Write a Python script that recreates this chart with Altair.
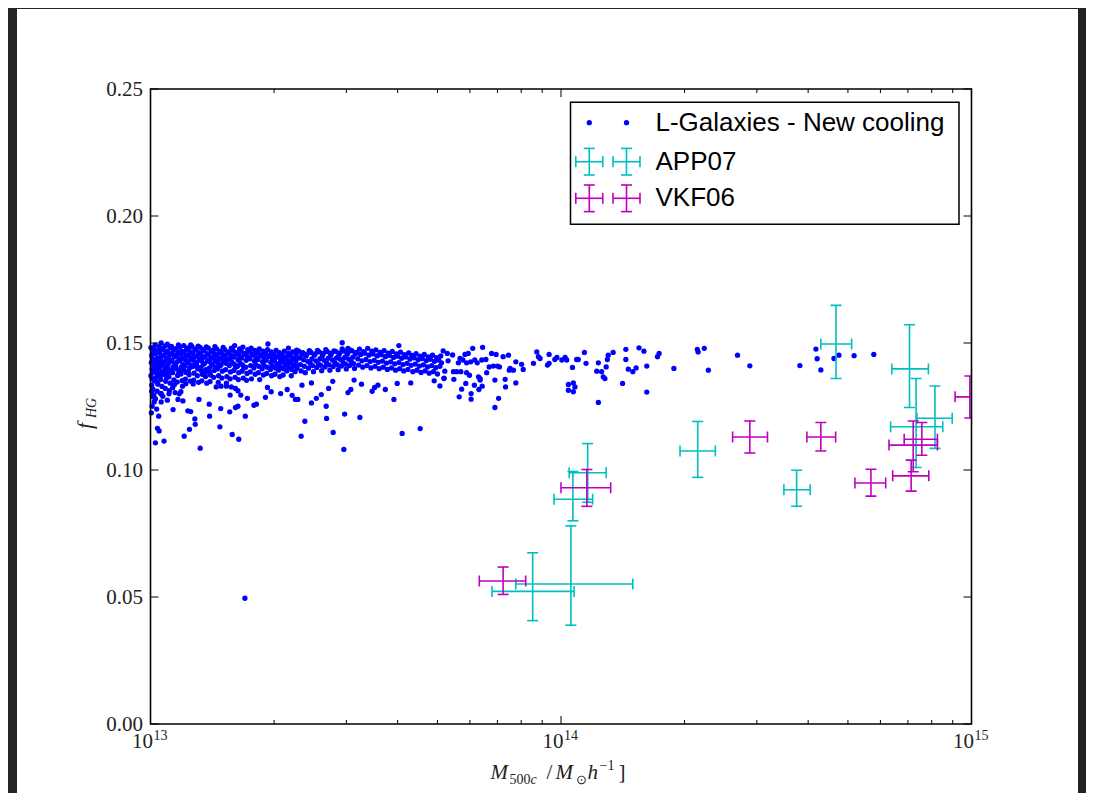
import altair as alt
import pandas as pd

# ---------------- data ----------------
# L-Galaxies model haloes: (log10 M500c [Msun/h], hot-gas fraction f_HG)
model_points = [
    # dense band, 13.00 - 13.36
    (13.001,0.1482),(13.003,0.1451),(13.002,0.1423),(13.004,0.1398),(13.001,0.1371),(13.006,0.1466),(13.005,0.1437),
    (13.008,0.1412),(13.007,0.1385),(13.009,0.1352),(13.003,0.1334),(13.006,0.1318),(13.009,0.1475),(13.004,0.1360),
    (13.011,0.1492),(13.012,0.1458),(13.014,0.1429),(13.013,0.1404),(13.016,0.1380),(13.015,0.1347),(13.018,0.1470),
    (13.017,0.1441),(13.019,0.1418),(13.011,0.1392),(13.014,0.1365),(13.018,0.1338),(13.016,0.1310),
    (13.021,0.1486),(13.022,0.1462),(13.024,0.1433),(13.023,0.1408),(13.026,0.1385),(13.025,0.1356),(13.028,0.1473),
    (13.027,0.1447),(13.029,0.1420),(13.021,0.1397),(13.024,0.1370),(13.028,0.1329),(13.026,0.1500),
    (13.031,0.1479),(13.033,0.1452),(13.032,0.1426),(13.035,0.1401),(13.034,0.1376),(13.037,0.1349),(13.036,0.1489),
    (13.038,0.1463),(13.039,0.1436),(13.031,0.1414),(13.034,0.1389),(13.039,0.1362),(13.036,0.1321),
    (13.041,0.1495),(13.042,0.1468),(13.044,0.1441),(13.043,0.1417),(13.046,0.1392),(13.045,0.1367),(13.048,0.1482),
    (13.047,0.1455),(13.049,0.1428),(13.041,0.1404),(13.044,0.1380),(13.048,0.1342),(13.046,0.1312),
    (13.051,0.1487),(13.053,0.1459),(13.052,0.1432),(13.055,0.1406),(13.054,0.1383),(13.057,0.1355),(13.056,0.1472),
    (13.058,0.1445),(13.059,0.1419),(13.051,0.1394),(13.058,0.1336),(13.054,0.1324),
    (13.061,0.1478),(13.062,0.1451),(13.064,0.1424),(13.063,0.1399),(13.066,0.1372),(13.065,0.1346),(13.068,0.1493),
    (13.067,0.1464),(13.069,0.1437),(13.061,0.1411),(13.069,0.1385),
    (13.071,0.1484),(13.073,0.1456),(13.072,0.1430),(13.075,0.1405),(13.074,0.1378),(13.077,0.1352),(13.076,0.1468),
    (13.078,0.1441),(13.079,0.1415),(13.072,0.1390),(13.078,0.1330),
    (13.081,0.1490),(13.082,0.1462),(13.084,0.1435),(13.083,0.1409),(13.086,0.1384),(13.085,0.1358),(13.088,0.1475),
    (13.087,0.1448),(13.089,0.1421),(13.081,0.1396),(13.086,0.1340),
    (13.091,0.1481),(13.093,0.1454),(13.092,0.1427),(13.095,0.1402),(13.094,0.1375),(13.097,0.1350),(13.096,0.1466),
    (13.098,0.1439),(13.099,0.1413),(13.092,0.1388),(13.098,0.1493),
    (13.101,0.1486),(13.102,0.1460),(13.104,0.1433),(13.103,0.1407),(13.106,0.1381),(13.105,0.1354),(13.108,0.1471),
    (13.107,0.1444),(13.109,0.1418),(13.104,0.1339),
    (13.111,0.1477),(13.113,0.1450),(13.112,0.1423),(13.115,0.1398),(13.114,0.1371),(13.117,0.1345),(13.116,0.1488),
    (13.118,0.1462),(13.119,0.1435),(13.113,0.1410),
    (13.121,0.1483),(13.122,0.1456),(13.124,0.1429),(13.123,0.1404),(13.126,0.1377),(13.125,0.1351),(13.128,0.1469),
    (13.127,0.1442),(13.129,0.1416),(13.124,0.1391),
    (13.131,0.1474),(13.133,0.1447),(13.132,0.1420),(13.135,0.1395),(13.134,0.1368),(13.137,0.1342),(13.136,0.1485),
    (13.138,0.1458),(13.139,0.1431),(13.133,0.1381),
    (13.141,0.1480),(13.142,0.1453),(13.144,0.1426),(13.143,0.1401),(13.146,0.1374),(13.145,0.1348),(13.148,0.1466),
    (13.147,0.1439),(13.149,0.1412),(13.144,0.1386),
    (13.151,0.1471),(13.153,0.1444),(13.152,0.1417),(13.155,0.1392),(13.154,0.1365),(13.157,0.1486),(13.156,0.1458),
    (13.158,0.1431),(13.159,0.1404),
    (13.161,0.1477),(13.162,0.1450),(13.164,0.1423),(13.163,0.1398),(13.166,0.1371),(13.165,0.1345),(13.168,0.1463),
    (13.167,0.1436),(13.169,0.1409),
    (13.171,0.1468),(13.173,0.1441),(13.172,0.1414),(13.175,0.1389),(13.174,0.1362),(13.177,0.1483),(13.176,0.1455),(13.178,0.1428),
    (13.181,0.1474),(13.182,0.1447),(13.184,0.1420),(13.183,0.1395),(13.186,0.1368),(13.185,0.1342),(13.188,0.1460),(13.187,0.1433),
    (13.191,0.1465),(13.193,0.1438),(13.192,0.1411),(13.195,0.1386),(13.194,0.1359),(13.197,0.1480),(13.196,0.1452),(13.198,0.1425),
    (13.201,0.1471),(13.202,0.1444),(13.204,0.1417),(13.203,0.1392),(13.206,0.1365),(13.205,0.1490),(13.208,0.1457),(13.207,0.1404),
    (13.211,0.1462),(13.213,0.1435),(13.212,0.1408),(13.215,0.1383),(13.214,0.1356),(13.217,0.1477),(13.216,0.1449),(13.218,0.1422),
    (13.221,0.1468),(13.222,0.1441),(13.224,0.1414),(13.223,0.1389),(13.226,0.1362),(13.225,0.1484),(13.228,0.1455),(13.227,0.1401),
    (13.231,0.1459),(13.233,0.1432),(13.232,0.1405),(13.235,0.1380),(13.234,0.1353),(13.237,0.1474),(13.236,0.1446),
    (13.241,0.1465),(13.242,0.1438),(13.244,0.1411),(13.243,0.1386),(13.246,0.1359),(13.245,0.1480),(13.248,0.1452),
    (13.251,0.1456),(13.253,0.1429),(13.252,0.1402),(13.255,0.1377),(13.254,0.1471),(13.257,0.1443),(13.256,0.1416),
    (13.261,0.1462),(13.262,0.1435),(13.264,0.1408),(13.263,0.1383),(13.266,0.1356),(13.265,0.1477),(13.268,0.1449),
    (13.271,0.1453),(13.273,0.1426),(13.272,0.1399),(13.275,0.1374),(13.274,0.1468),(13.277,0.1440),(13.276,0.1413),
    (13.281,0.1459),(13.282,0.1432),(13.284,0.1405),(13.283,0.1380),(13.286,0.1496),(13.285,0.1474),(13.288,0.1446),
    (13.291,0.1450),(13.293,0.1423),(13.292,0.1396),(13.295,0.1371),(13.294,0.1465),(13.297,0.1437),(13.296,0.1410),
    (13.301,0.1456),(13.302,0.1429),(13.304,0.1402),(13.303,0.1377),(13.306,0.1471),(13.305,0.1443),(13.308,0.1416),
    (13.311,0.1447),(13.313,0.1420),(13.312,0.1393),(13.315,0.1368),(13.314,0.1462),(13.317,0.1434),(13.316,0.1407),
    (13.321,0.1453),(13.322,0.1426),(13.324,0.1399),(13.323,0.1374),(13.326,0.1468),(13.325,0.1440),(13.328,0.1413),
    (13.331,0.1444),(13.333,0.1417),(13.332,0.1390),(13.335,0.1459),(13.334,0.1431),(13.337,0.1404),(13.336,0.1480),
    (13.341,0.1450),(13.342,0.1423),(13.344,0.1396),(13.343,0.1371),(13.346,0.1465),(13.345,0.1437),(13.348,0.1410),
    (13.351,0.1441),(13.353,0.1414),(13.352,0.1387),(13.355,0.1456),(13.354,0.1428),(13.357,0.1401),(13.356,0.1472),
    # sparse points below the band, 13.00 - 13.36
    (13.006,0.1288),(13.009,0.1268),(13.004,0.1251),(13.026,0.1268),(13.041,0.1275),(13.055,0.1238),(13.067,0.1278),
    (13.079,0.1272),(13.091,0.1233),(13.098,0.1230),(13.108,0.1201),(13.109,0.1180),(13.095,0.1160),(13.082,0.1133),
    (13.020,0.1212),(13.017,0.1164),(13.021,0.1154),(13.012,0.1107),(13.033,0.1114),(13.121,0.1086),(13.118,0.1278),
    (13.143,0.1259),(13.144,0.1212),(13.171,0.1242),(13.169,0.1170),(13.193,0.1229),(13.194,0.1295),(13.207,0.1246),
    (13.213,0.1251),(13.199,0.1140),(13.215,0.1121),(13.231,0.1212),(13.220,0.1295),(13.236,0.1282),(13.252,0.1255),
    (13.258,0.1259),(13.280,0.1286),(13.285,0.1325),(13.294,0.1308),(13.317,0.1301),(13.333,0.1317),(13.345,0.1294),
    (13.353,0.1278),(13.160,0.1327),(13.172,0.1330),(13.185,0.1330),(13.197,0.1327),(13.207,0.1321),(13.213,0.1312),
    (13.003,0.1310),(13.008,0.1295),(13.012,0.1281),(13.015,0.1240),(13.002,0.1225),(13.025,0.1300),(13.030,0.1290),
    (13.045,0.1300),(13.060,0.1305),(13.070,0.1300),(13.026,0.1302),(13.074,0.1308),
    # band 13.36 - 13.71
    (13.361,0.1468),(13.363,0.1441),(13.365,0.1415),(13.367,0.1390),(13.369,0.1455),
    (13.371,0.1462),(13.373,0.1434),(13.375,0.1408),(13.377,0.1383),(13.379,0.1449),
    (13.381,0.1456),(13.383,0.1428),(13.385,0.1401),(13.387,0.1470),(13.389,0.1420),
    (13.391,0.1463),(13.393,0.1437),(13.395,0.1411),(13.397,0.1387),(13.399,0.1452),
    (13.401,0.1457),(13.403,0.1430),(13.405,0.1404),(13.407,0.1471),(13.409,0.1419),
    (13.411,0.1465),(13.413,0.1438),(13.415,0.1412),(13.417,0.1391),(13.419,0.1451),
    (13.421,0.1459),(13.423,0.1432),(13.425,0.1406),(13.427,0.1474),(13.429,0.1421),
    (13.431,0.1466),(13.433,0.1440),(13.435,0.1414),(13.437,0.1393),(13.439,0.1453),
    (13.441,0.1460),(13.443,0.1433),(13.445,0.1407),(13.447,0.1469),(13.449,0.1423),
    (13.451,0.1467),(13.453,0.1441),(13.455,0.1415),(13.457,0.1395),(13.459,0.1454),
    (13.461,0.1461),(13.463,0.1435),(13.465,0.1409),(13.467,0.1477),(13.469,0.1425),
    (13.471,0.1468),(13.473,0.1443),(13.475,0.1417),(13.477,0.1398),(13.479,0.1456),
    (13.481,0.1462),(13.483,0.1436),(13.485,0.1411),(13.487,0.1472),(13.489,0.1427),
    (13.491,0.1469),(13.493,0.1444),(13.495,0.1419),(13.497,0.1400),(13.499,0.1458),
    (13.502,0.1463),(13.505,0.1438),(13.507,0.1413),(13.509,0.1476),
    (13.512,0.1455),(13.515,0.1430),(13.517,0.1405),(13.519,0.1466),
    (13.522,0.1460),(13.525,0.1435),(13.527,0.1411),(13.529,0.1479),
    (13.532,0.1452),(13.535,0.1427),(13.537,0.1402),(13.539,0.1468),
    (13.542,0.1457),(13.545,0.1432),(13.547,0.1408),(13.549,0.1473),
    (13.552,0.1449),(13.555,0.1424),(13.557,0.1399),(13.559,0.1463),
    (13.562,0.1454),(13.565,0.1429),(13.567,0.1405),(13.569,0.1470),
    (13.572,0.1446),(13.575,0.1421),(13.577,0.1396),(13.579,0.1460),
    (13.582,0.1451),(13.585,0.1426),(13.587,0.1402),(13.589,0.1467),
    (13.592,0.1443),(13.595,0.1418),(13.597,0.1393),(13.599,0.1457),
    (13.602,0.1448),(13.605,0.1423),(13.607,0.1399),(13.609,0.1464),
    (13.612,0.1440),(13.615,0.1415),(13.617,0.1390),(13.619,0.1454),
    (13.622,0.1445),(13.625,0.1420),(13.627,0.1396),(13.629,0.1461),
    (13.632,0.1437),(13.635,0.1412),(13.637,0.1451),(13.639,0.1387),
    (13.642,0.1442),(13.645,0.1417),(13.647,0.1458),(13.649,0.1393),
    (13.652,0.1434),(13.655,0.1409),(13.657,0.1448),(13.659,0.1384),
    (13.662,0.1439),(13.665,0.1414),(13.667,0.1455),(13.669,0.1390),
    (13.672,0.1431),(13.675,0.1406),(13.677,0.1445),(13.679,0.1381),
    (13.682,0.1436),(13.685,0.1411),(13.687,0.1452),(13.689,0.1387),
    (13.692,0.1428),(13.695,0.1403),(13.697,0.1442),(13.699,0.1378),
    (13.702,0.1433),(13.705,0.1408),(13.707,0.1449),
    # sparse points 13.36 - 13.71
    (13.467,0.1501),(13.481,0.1479),(13.605,0.1490),(13.369,0.1334),(13.359,0.1278),(13.392,0.1343),(13.416,0.1297),
    (13.404,0.1282),(13.392,0.1264),(13.434,0.1321),(13.444,0.1349),(13.428,0.1251),(13.376,0.1192),(13.429,0.1203),
    (13.367,0.1133),(13.445,0.1148),(13.471,0.1081),(13.473,0.1220),(13.510,0.1207),(13.481,0.1305),(13.488,0.1317),
    (13.496,0.1354),(13.514,0.1338),(13.540,0.1310),(13.546,0.1325),(13.554,0.1334),(13.572,0.1317),(13.593,0.1278),
    (13.601,0.1341),(13.634,0.1343),(13.613,0.1144),(13.657,0.1163),(13.705,0.1331),(13.715,0.1360),(13.691,0.1351),
    # 13.71 - 14.45
    (13.713,0.1469),(13.723,0.1459),(13.736,0.1453),(13.709,0.1422),(13.725,0.1430),(13.717,0.1389),(13.738,0.1387),
    (13.715,0.1362),(13.739,0.1357),(13.752,0.1288),(13.758,0.1318),(13.768,0.1341),(13.781,0.1279),
    (13.781,0.1301),(13.789,0.1334),(13.800,0.1317),(13.808,0.1330),(13.839,0.1246),(13.848,0.1282),(13.865,0.1327),
    (13.864,0.1357),(13.839,0.1354),(13.803,0.1354),(13.890,0.1343),
    (13.754,0.1439),(13.766,0.1455),(13.774,0.1459),(13.785,0.1479),(13.809,0.1483),(13.831,0.1459),(13.842,0.1455),
    (13.872,0.1452),(13.859,0.1446),
    (13.750,0.1422),(13.761,0.1433),(13.770,0.1422),(13.780,0.1426),(13.790,0.1433),(13.796,0.1422),(13.807,0.1433),
    (13.817,0.1435),(13.825,0.1406),(13.835,0.1409),(13.845,0.1409),(13.850,0.1406),(13.874,0.1393),(13.876,0.1400),
    (13.884,0.1393),(13.890,0.1426),(13.904,0.1416),(13.908,0.1396),
    (13.746,0.1387),(13.756,0.1387),(13.770,0.1383),(13.777,0.1373),(13.799,0.1367),(13.803,0.1360),(13.819,0.1383),
    (13.933,0.1420),(13.941,0.1465),(13.945,0.1446),(13.949,0.1439),(13.971,0.1455),(13.967,0.1413),(13.971,0.1420),
    (13.985,0.1435),(13.990,0.1443),(14.002,0.1433),(14.010,0.1443),(14.014,0.1433),(14.028,0.1404),
    (14.018,0.1337),(14.030,0.1343),(14.018,0.1314),(14.030,0.1308),(14.034,0.1327),(14.038,0.1435),(14.042,0.1435),
    (14.057,0.1463),(14.061,0.1420),(14.091,0.1422),(14.087,0.1389),(14.099,0.1387),(14.103,0.1367),(14.107,0.1360),
    (14.110,0.1406),(14.113,0.1435),(14.115,0.1452),(14.091,0.1266),(14.127,0.1463),(14.150,0.1341),(14.158,0.1475),
    (14.158,0.1435),(14.164,0.1397),(14.175,0.1387),(14.183,0.1402),(14.190,0.1481),(14.202,0.1468),(14.209,0.1409),
    (14.209,0.1307),(14.235,0.1446),(14.239,0.1459),(14.275,0.1400),(14.332,0.1475),(14.334,0.1465),(14.349,0.1479),
    (14.359,0.1393),(14.430,0.1452),
    # 14.45 - 14.80
    (14.460,0.1410),(14.582,0.1411),(14.621,0.1476),(14.624,0.1438),(14.633,0.1394),(14.665,0.1439),(14.677,0.1452),
    (14.714,0.1450),(14.762,0.1455),
    # outlier
    (13.230,0.0495),
]

# APP07 observations (log10 M centre, lower, upper; f centre, lower, upper)
app07_logm    = [13.931, 14.024, 14.029, 14.065, 14.333, 14.574, 14.670, 14.849, 14.865, 14.911]
app07_logm_lo = [13.832, 13.890, 13.983, 14.020, 14.290, 14.543, 14.633, 14.806, 14.803, 14.867]
app07_logm_hi = [14.032, 14.175, 14.077, 14.110, 14.376, 14.607, 14.708, 14.895, 14.930, 14.953]
app07_f       = [0.0522, 0.0551, 0.0885, 0.0989, 0.1075, 0.0922, 0.1496, 0.1398, 0.1170, 0.1204]
app07_f_lo    = [0.0407, 0.0389, 0.0800, 0.0873, 0.0971, 0.0857, 0.1360, 0.1246, 0.1010, 0.1085]
app07_f_hi    = [0.0674, 0.0780, 0.0994, 0.1104, 0.1191, 0.0999, 0.1648, 0.1572, 0.1360, 0.1331]

# VKF06 observations
vkf06_logm    = [13.859, 14.063, 14.460, 14.633, 14.755, 14.853, 14.858, 14.879, 14.996]
vkf06_logm_lo = [13.801, 14.000, 14.418, 14.599, 14.716, 14.808, 14.799, 14.836, 14.960]
vkf06_logm_hi = [13.914, 14.121, 14.503, 14.669, 14.791, 14.896, 14.917, 14.917, 15.033]
vkf06_f       = [0.0563, 0.0930, 0.1130, 0.1130, 0.0949, 0.0977, 0.1098, 0.1121, 0.1288]
vkf06_f_lo    = [0.0510, 0.0857, 0.1067, 0.1075, 0.0897, 0.0917, 0.0993, 0.1058, 0.1205]
vkf06_f_hi    = [0.0618, 0.1002, 0.1193, 0.1187, 0.1003, 0.1039, 0.1193, 0.1187, 0.1370]

y_ticks = [0.0, 0.05, 0.10, 0.15, 0.20, 0.25]
x_major = [1e13, 1e14, 1e15]
x_major_exp = ["13", "14", "15"]
x_minor = [2e13, 3e13, 4e13, 5e13, 6e13, 7e13, 8e13, 9e13,
           2e14, 3e14, 4e14, 5e14, 6e14, 7e14, 8e14, 9e14]

legend_labels = ["L-Galaxies - New cooling", "APP07", "VKF06"]

# ---------------- frames ----------------
model_df = pd.DataFrame(model_points, columns=["logm", "f"])
model_df["m"] = 10 ** model_df["logm"]

def obs_frame(lm, lo, hi, f, flo, fhi):
    return pd.DataFrame({
        "m": [10 ** v for v in lm], "m_lo": [10 ** v for v in lo], "m_hi": [10 ** v for v in hi],
        "f": f, "f_lo": flo, "f_hi": fhi})

app_df = obs_frame(app07_logm, app07_logm_lo, app07_logm_hi, app07_f, app07_f_lo, app07_f_hi)
vkf_df = obs_frame(vkf06_logm, vkf06_logm_lo, vkf06_logm_hi, vkf06_f, vkf06_f_lo, vkf06_f_hi)

W, H = 821, 635
SERIF = "Liberation Serif"
SANS = "Liberation Sans"
BLUE, CYAN, MAG = "#0000ff", "#00bfbf", "#bf00bf"
DOT = 28

xscale = alt.Scale(type="log", domain=[1e13, 1e15], nice=False)
yscale = alt.Scale(domain=[0, 0.25], nice=False, zero=False)
yaxis = alt.Axis(values=y_ticks, format=".2f", labelFont=SERIF, labelFontSize=21, labelColor="#222222",
                 ticks=False, domain=False, grid=False, labelPadding=8, title=None, zindex=2)

def X(field):
    return alt.X(field, type="quantitative", scale=xscale, axis=None)

def Y(field):
    return alt.Y(field, type="quantitative", scale=yscale, axis=yaxis)

one = alt.Data(values=[{"k": 1}])

def px_rule(x, x2, y, y2, color, sw=1.6):
    return alt.Chart(one).mark_rule(color=color, strokeWidth=sw).encode(
        x=alt.value(x), x2=alt.value(x2), y=alt.value(y), y2=alt.value(y2))

def px_text(txt, x, y, size, font=SERIF, style="normal", angle=0, baseline="alphabetic", align="left", color="#222222"):
    return alt.Chart(one).mark_text(text=txt, font=font, fontSize=size, fontStyle=style, angle=angle,
                                    baseline=baseline, align=align, color=color).encode(
        x=alt.value(x), y=alt.value(y))

layers = []

# white figure background (the outer frame is dark)
layers.append(alt.Chart(one).mark_rect(color="white").encode(
    x=alt.value(-133.5), x2=alt.value(927.5), y=alt.value(-80), y2=alt.value(704)))

# model scatter
layers.append(alt.Chart(model_df).mark_circle(color=BLUE, size=DOT, opacity=1).encode(x=X("m"), y=Y("f")))

def errbars(df, color):
    base = alt.Chart(df)
    out = [
        base.mark_rule(color=color, strokeWidth=1.6, clip=True).encode(x=X("m_lo"), x2="m_hi", y=Y("f")),
        base.mark_rule(color=color, strokeWidth=1.6, clip=True).encode(x=X("m"), y=Y("f_lo"), y2="f_hi"),
        base.transform_fold(["m_lo", "m_hi"], as_=["which", "mv"]).mark_tick(
            orient="vertical", size=11, thickness=1.6, color=color, clip=True, opacity=1).encode(x=X("mv"), y=Y("f")),
        base.transform_fold(["f_lo", "f_hi"], as_=["which", "fv"]).mark_tick(
            orient="horizontal", size=11, thickness=1.6, color=color, clip=True, opacity=1).encode(x=X("m"), y=Y("fv")),
    ]
    return out

layers += errbars(app_df, CYAN)
layers += errbars(vkf_df, MAG)

# plot frame
layers.append(alt.Chart(one).mark_rect(filled=False, stroke="black", strokeWidth=1.6).encode(
    x=alt.value(0), x2=alt.value(W), y=alt.value(0), y2=alt.value(H)))

# inward ticks
yt = pd.DataFrame({"v": y_ticks})
layers.append(alt.Chart(yt).mark_rule(color="black", strokeWidth=1).encode(y=Y("v"), x=alt.value(0), x2=alt.value(8)))
layers.append(alt.Chart(yt).mark_rule(color="black", strokeWidth=1).encode(y=Y("v"), x=alt.value(W - 8), x2=alt.value(W)))
xmj = pd.DataFrame({"v": x_major, "e": x_major_exp})
xmn = pd.DataFrame({"v": x_minor})
for df, ln in ((xmj, 8), (xmn, 4)):
    layers.append(alt.Chart(df).mark_rule(color="black", strokeWidth=1).encode(x=X("v"), y=alt.value(H - ln), y2=alt.value(H)))
    layers.append(alt.Chart(df).mark_rule(color="black", strokeWidth=1).encode(x=X("v"), y=alt.value(0), y2=alt.value(ln)))

# x tick labels 10^n
layers.append(alt.Chart(xmj).mark_text(text="10", font=SERIF, fontSize=21, align="center", baseline="alphabetic",
                                       dx=-8, color="#222222").encode(x=X("v"), y=alt.value(H + 24)))
layers.append(alt.Chart(xmj).mark_text(font=SERIF, fontSize=14, align="left", baseline="alphabetic",
                                       dx=3, color="#222222").encode(x=X("v"), y=alt.value(H + 16), text="e:N"))

# x title: M_500c /M_sun h^-1]
layers += [
    px_text("M", 340, 690, 21, style="italic"),
    px_text("500", 359, 695, 14),
    px_text("c", 380, 695, 14, style="italic"),
    px_text("/", 396, 690, 21),
    px_text("M", 405, 690, 21, style="italic"),
    px_text("\u2299", 425, 695, 13),
    px_text("h", 437, 690, 21, style="italic"),
    px_text("\u22121", 449, 681, 14),
    px_text("]", 468, 690, 21),
]
# y title: f_HG
layers += [
    px_text("f", -59, 340, 22, style="italic", angle=270),
    px_text("HG", -55, 329, 14, style="italic", angle=270),
]

# legend
LX0, LX1, LY0, LY1 = 420, 808.5, 13.3, 135.3
layers.append(alt.Chart(one).mark_rect(fill="white", stroke="black", strokeWidth=1.5).encode(
    x=alt.value(LX0), x2=alt.value(LX1), y=alt.value(LY0), y2=alt.value(LY1)))
row_y = [33.7, 72.7, 109.3]
sym_x = [438.8, 476.0]
for sx in sym_x:
    layers.append(alt.Chart(one).mark_circle(color=BLUE, size=DOT, opacity=1).encode(x=alt.value(sx), y=alt.value(row_y[0])))
for ry, col in ((row_y[1], CYAN), (row_y[2], MAG)):
    for sx in sym_x:
        layers.append(px_rule(sx - 13.5, sx + 13.5, ry, ry, col))
        layers.append(px_rule(sx, sx, ry - 13.3, ry + 13.3, col))
        layers.append(px_rule(sx - 13.5, sx - 13.5, ry - 5.5, ry + 5.5, col))
        layers.append(px_rule(sx + 13.5, sx + 13.5, ry - 5.5, ry + 5.5, col))
        layers.append(px_rule(sx - 5.5, sx + 5.5, ry - 13.3, ry - 13.3, col))
        layers.append(px_rule(sx - 5.5, sx + 5.5, ry + 13.3, ry + 13.3, col))
for lbl, ry in zip(legend_labels, row_y):
    layers.append(px_text(lbl, 505, ry, 26, font=SANS, baseline="middle", color="black"))

chart = alt.layer(*layers).properties(
    width=W, height=H,
    autosize=alt.AutoSizeParams(type="none"),
    padding={"left": 142.5, "top": 81, "right": 114.5, "bottom": 69},
    background="#232428",
).configure_view(stroke=None)

chart.save("out.html", embed_options={"renderer": "svg", "actions": False})
